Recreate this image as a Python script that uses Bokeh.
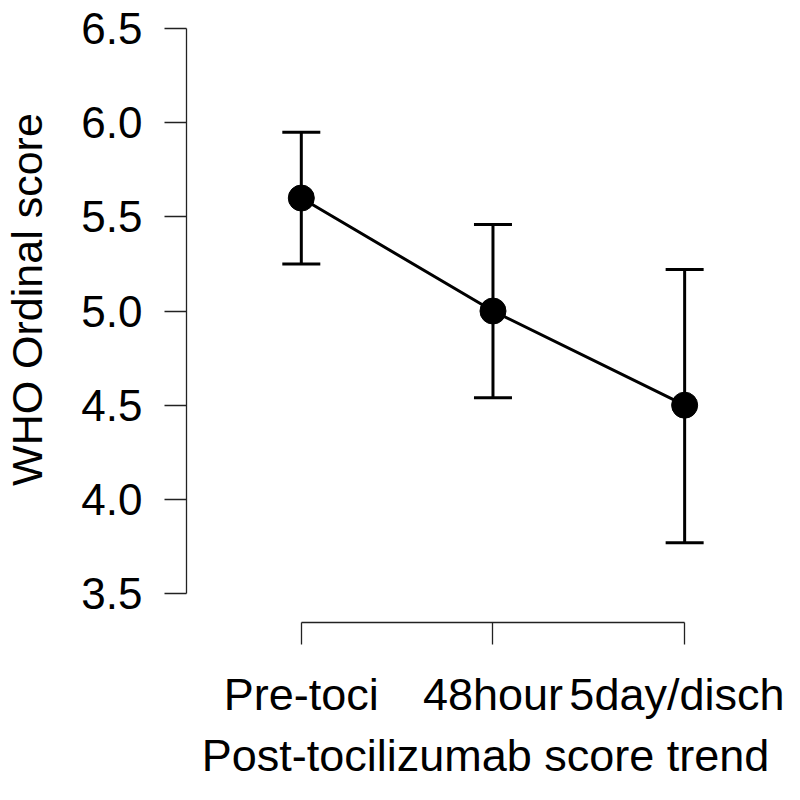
from bokeh.plotting import figure
from bokeh.models import (Range1d, LinearAxis, FixedTicker, Whisker, TeeHead,
                          ColumnDataSource, NumeralTickFormatter)
from bokeh.embed import file_html
from bokeh.resources import INLINE

categories = ["Pre-toci", "48hour", "5day/disch"]
positions = [1, 2, 3]
mean_score = [5.6, 5.0, 4.5]
upper_ci = [5.95, 5.46, 5.22]
lower_ci = [5.25, 4.54, 3.77]
y_ticks = [3.5, 4.0, 4.5, 5.0, 5.5, 6.0, 6.5]

FONT = "Liberation Sans"

src = ColumnDataSource(dict(x=positions, y=mean_score, upper=upper_ci, lower=lower_ci))

p = figure(width=784, height=784, output_backend="svg", toolbar_location=None,
           x_range=Range1d(0.401, 3.521), y_range=Range1d(3.346, 6.649),
           x_axis_location=None, y_axis_location=None,
           min_border_left=185, min_border_right=0, min_border_top=0,
           min_border_bottom=162)
p.outline_line_color = None
p.grid.visible = False
p.background_fill_color = "white"
p.border_fill_color = "white"

def style_axis(ax, size):
    ax.axis_line_color = "#222222"
    ax.axis_line_width = 1.3
    ax.major_tick_line_color = "#222222"
    ax.major_tick_line_width = 1.3
    ax.major_tick_out = 22
    ax.major_tick_in = 0
    ax.minor_tick_line_color = None
    ax.major_label_text_font = FONT
    ax.major_label_text_font_size = size
    ax.major_label_text_color = "black"
    ax.axis_label_text_font = FONT
    ax.axis_label_text_font_size = size
    ax.axis_label_text_font_style = "normal"
    ax.axis_label_text_color = "black"

# y axis: ticks + labels (line only across the tick range), with title
# (two leading no-break spaces nudge the centred title up, as in the original)
yax = LinearAxis(ticker=FixedTicker(ticks=y_ticks), bounds=(3.5, 6.5),
                 formatter=NumeralTickFormatter(format="0.0"),
                 axis_label="\u00a0\u00a0WHO Ordinal score")
style_axis(yax, "44px")
yax.axis_label_text_font_size = "43px"
yax.major_label_standoff = 22
yax.axis_label_standoff = 27
p.add_layout(yax, "left")

xax = LinearAxis(ticker=FixedTicker(ticks=positions), bounds=(1, 3),
                 axis_label="Post-tocilizumab score trend",
                 major_label_overrides={pos: lab for pos, lab in zip(positions, categories)})
style_axis(xax, "45px")
xax.major_label_standoff = 24
xax.axis_label_standoff = 7
p.add_layout(xax, "below")

w = Whisker(source=src, base="x", upper="upper", lower="lower",
            line_color="black", line_width=3,
            upper_head=TeeHead(size=38, line_color="black", line_width=3),
            lower_head=TeeHead(size=38, line_color="black", line_width=3))
p.add_layout(w)

p.line("x", "y", source=src, line_color="black", line_width=3)
p.scatter("x", "y", source=src, size=26, fill_color="black", line_color="black")

open("out.html", "w").write(file_html(p, INLINE))
